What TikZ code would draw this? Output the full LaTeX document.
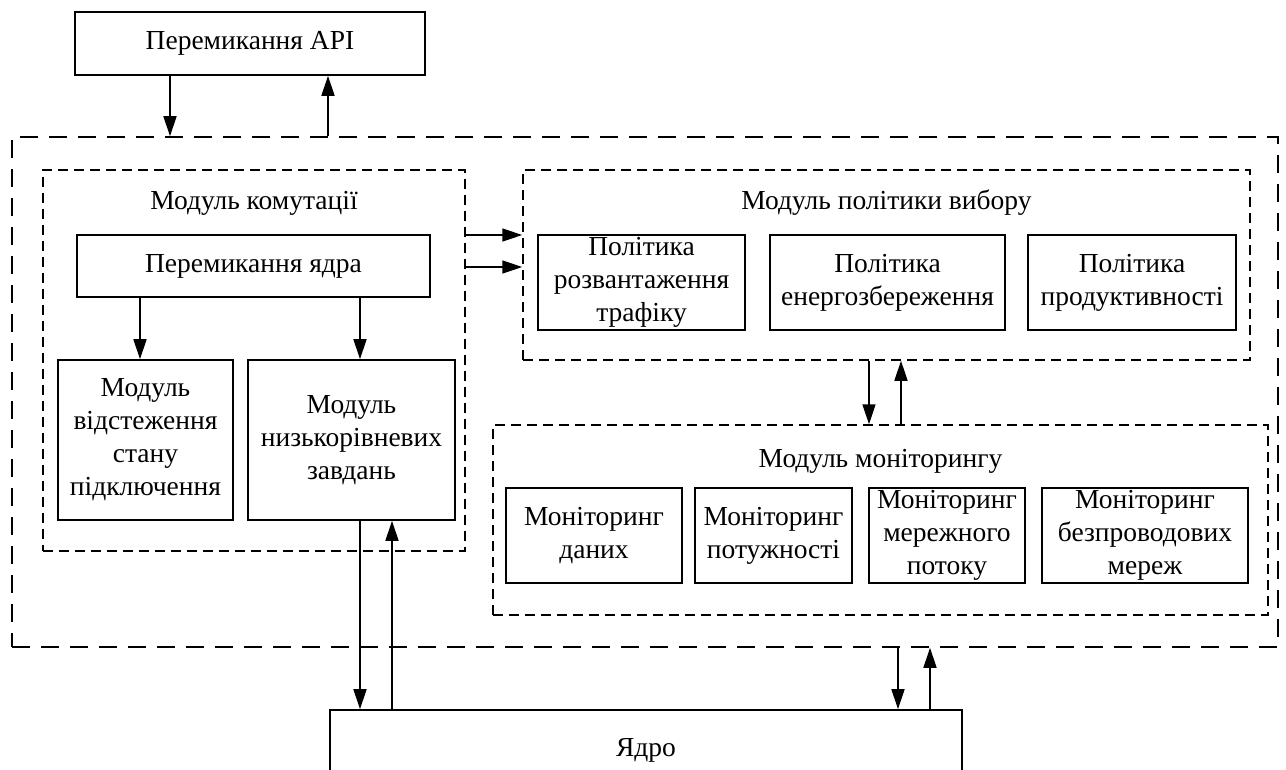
\documentclass[tikz,border=0pt]{standalone}
\usepackage{fontspec}
\setmainfont{Liberation Serif}
\usetikzlibrary{arrows.meta}
\tikzset{
  lbl/.style={font=\fontsize{27.5}{33}\selectfont, align=center, inner sep=0pt},
  box/.style={lbl, draw, line width=1.6pt},
  grp/.style={draw, line width=1.5pt, dash pattern=on 10pt off 6pt},
  frame/.style={draw, line width=1.6pt, dash pattern=on 18pt off 11pt},
  arr/.style={line width=1.6pt, -{Triangle[length=20pt,width=13pt]}}
}
\begin{document}
\begin{tikzpicture}[x=1pt,y=-1pt]
\clip (0,0) rectangle (1286,769);
\fill[white] (0,0) rectangle (1286,769);

% top-level blocks
\node[box, minimum width=350pt, minimum height=63pt] (api) at (250,43.5) {Перемикання API};
\node[frame, minimum width=1266pt, minimum height=510pt] (outer) at (645,392) {};
\node[box, minimum width=632pt, minimum height=80pt] (core) at (646,750) {Ядро};

% switching module
\node[grp, minimum width=422pt, minimum height=381pt] (sw) at (254,360.5) {};
\node[lbl] (swt) at (254,203) {Модуль комутації};
\node[box, minimum width=353pt, minimum height=62pt] (ksw) at (253.5,266) {Перемикання ядра};
\node[box, minimum width=175pt, minimum height=160pt] (track) at (145.5,440) {Модуль\\відстеження\\стану\\підключення};
\node[box, minimum width=207pt, minimum height=160pt] (low) at (351.5,440) {Модуль\\низькорівневих\\завдань};

% selection policy module
\node[grp, minimum width=727pt, minimum height=190pt] (pol) at (886.5,265) {};
\node[lbl] (polt) at (886.5,203) {Модуль політики вибору};
\node[box, minimum width=207pt, minimum height=95pt] (p1) at (641.5,282.5) {Політика\\розвантаження\\трафіку};
\node[box, minimum width=235pt, minimum height=95pt] (p2) at (887.5,282.5) {Політика\\енергозбереження};
\node[box, minimum width=208pt, minimum height=95pt] (p3) at (1132,282.5) {Політика\\продуктивності};

% monitoring module
\node[grp, minimum width=775pt, minimum height=190pt] (mon) at (880.5,520) {};
\node[lbl] (mont) at (880.5,461) {Модуль моніторингу};
\node[box, minimum width=176pt, minimum height=95pt] (m1) at (594,535.5) {Моніторинг\\даних};
\node[box, minimum width=157pt, minimum height=95pt] (m2) at (773.5,535.5) {Моніторинг\\потужності};
\node[box, minimum width=156pt, minimum height=95pt] (m3) at (947,535.5) {Моніторинг\\мережного\\потоку};
\node[box, minimum width=206pt, minimum height=95pt] (m4) at (1145,535.5) {Моніторинг\\безпроводових\\мереж};

% x positions of the vertical connectors, y positions of the horizontal ones
\coordinate (xa) at (170,0);
\coordinate (xb) at (328,0);
\coordinate (xc) at (140,0);
\coordinate (xd) at (360,0);
\coordinate (xe) at (392,0);
\coordinate (xf) at (869,0);
\coordinate (xg) at (901,0);
\coordinate (xh) at (898,0);
\coordinate (xi) at (930,0);
\coordinate (ya) at (0,235);
\coordinate (yb) at (0,267);

% connectors
\draw[arr] (api.south -| xa) -- (outer.north -| xa);
\draw[arr] (outer.north -| xb) -- (api.south -| xb);
\draw[arr] (ksw.south -| xc) -- (track.north -| xc);
\draw[arr] (ksw.south -| xd) -- (low.north -| xd);
\draw[arr] (sw.east |- ya) -- (pol.west |- ya);
\draw[arr] (sw.east |- yb) -- (pol.west |- yb);
\draw[arr] (pol.south -| xf) -- (mon.north -| xf);
\draw[arr] (mon.north -| xg) -- (pol.south -| xg);
\draw[arr] (low.south -| xd) -- (core.north -| xd);
\draw[arr] (core.north -| xe) -- (low.south -| xe);
\draw[arr] (outer.south -| xh) -- (core.north -| xh);
\draw[arr] (core.north -| xi) -- (outer.south -| xi);
\end{tikzpicture}
\end{document}
